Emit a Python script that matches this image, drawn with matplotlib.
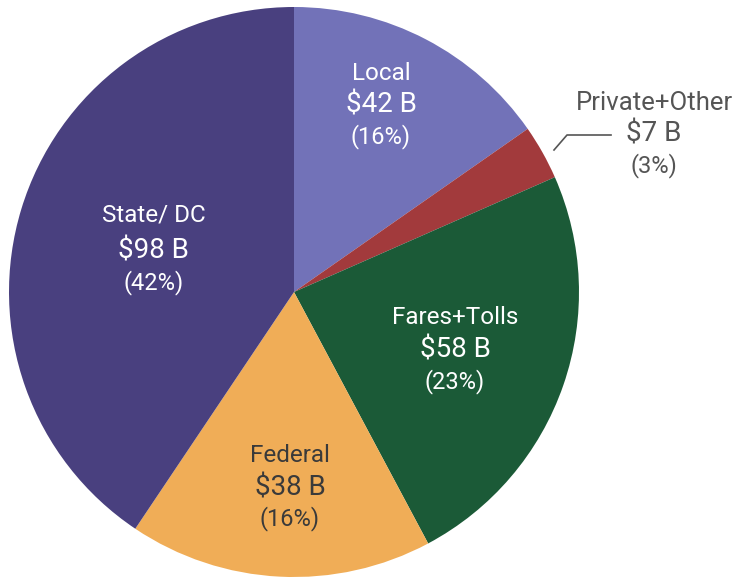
import matplotlib
matplotlib.use("Agg")
import matplotlib.pyplot as plt

names = ["Local", "Private+Other", "Fares+Tolls", "Federal", "State/ DC"]
dollars = ["$42 B", "$7 B", "$58 B", "$38 B", "$98 B"]
percents = ["(16%)", "(3%)", "(23%)", "(16%)", "(42%)"]
# slice shares as drawn in the picture (percent of circle)
shares = [15.3, 3.1, 23.8, 17.2, 40.6]
colors = ["#7272b8", "#a23a3c", "#1b5a37", "#f0ad57", "#49407f"]

plt.rcParams['font.family'] = ['Roboto', 'DejaVu Sans']

W, H = 736, 579
fig = plt.figure(figsize=(W / 100, H / 100), dpi=100)
cx, cy, r = 294, 292, 285
ax = fig.add_axes([(cx - r) / W, (H - cy - r) / H, 2 * r / W, 2 * r / H])
ax.pie(shares, colors=colors, startangle=90, counterclock=False, radius=1,
       wedgeprops=dict(linewidth=0))
ax.set_xlim(-1, 1)
ax.set_ylim(-1, 1)
ax.set_aspect("equal")
ax.axis("off")

pos = [(381, 74), (654, 103), (455, 317), (290, 455), (154, 215)]
gaps = [(31, 63), (31, 63), (33, 65), (33, 64), (36, 68)]
tcolors = ["white", "#555555", "white", "#3a3a3a", "white"]
nsizes = [17.5, 18.5, 17.5, 17.5, 17.5]
for (x, y), (g1, g2), n, d, p, c, ns in zip(pos, gaps, names, dollars, percents, tcolors, nsizes):
    fig.text(x / W, 1 - y / H, n, ha="center", va="center", fontsize=ns, color=c)
    fig.text(x / W, 1 - (y + g1) / H, d, ha="center", va="center", fontsize=20, color=c)
    fig.text(x / W, 1 - (y + g2) / H, p, ha="center", va="center", fontsize=17, color=c)

# leader line for Private+Other
lx = [554, 567, 611]
ly = [150, 135, 135]
fig.add_artist(plt.Line2D([v / W for v in lx], [1 - v / H for v in ly],
                          color="#555555", linewidth=1.2))

fig.savefig("out.png", dpi=100)
